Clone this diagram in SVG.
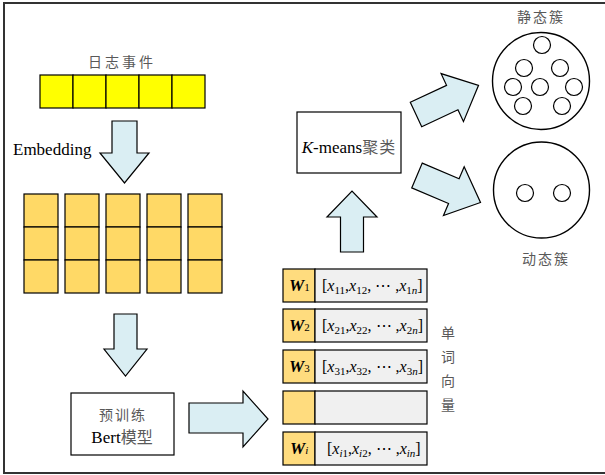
<svg xmlns="http://www.w3.org/2000/svg" width="605" height="475" viewBox="0 0 605 475">
<style>
.frame{fill:#fff;stroke:#333;stroke-width:2}
.ycell{fill:#FFFF00;stroke:#000;stroke-width:1.2}
.ocell{fill:#FFD966;stroke:#000;stroke-width:1.2}
.wcell{fill:#FFDC7E;stroke:#000;stroke-width:1.2}
.gcell{fill:#F0F0F0;stroke:#000;stroke-width:1.2}
.box{fill:#fff;stroke:#000;stroke-width:1.2}
.arrow{fill:#DAEEF3;stroke:#000;stroke-width:1.2;stroke-linejoin:miter}
.circ{fill:#fff;stroke:#000;stroke-width:1.4}
.dot{fill:#fff;stroke:#000;stroke-width:1.2}
.cjk{font-family:"Noto Sans CJK SC","Noto Sans",sans-serif;fill:#595959;font-size:14px}
.serif{font-family:"Liberation Serif","Noto Sans CJK SC",serif;fill:#000}
.vec{font-family:"Liberation Serif","DejaVu Serif",serif;font-size:16px;fill:#000}
.it{font-style:italic}
.sub{font-size:11px}
.w{font-family:"Liberation Serif",serif;font-size:17px;font-weight:bold;font-style:italic;fill:#000}
</style>
<rect class="frame" x="4" y="3" width="620" height="470"/>

<g id="log-events">
<text class="cjk" x="122" y="67" text-anchor="middle" letter-spacing="3">日志事件</text>
<rect class="ycell" x="40" y="75" width="33" height="33"/>
<rect class="ycell" x="73" y="75" width="33" height="33"/>
<rect class="ycell" x="106" y="75" width="33" height="33"/>
<rect class="ycell" x="139" y="75" width="33" height="33"/>
<rect class="ycell" x="172" y="75" width="33" height="33"/>
</g>

<g id="embedding-label">
<text class="serif" x="13" y="155" font-size="17">Embedding</text>
</g>

<g id="embedding-grid">
<rect class="ocell" x="24" y="194" width="34" height="33"/>
<rect class="ocell" x="24" y="227" width="34" height="33"/>
<rect class="ocell" x="24" y="260" width="34" height="33"/>
<rect class="ocell" x="65" y="194" width="34" height="33"/>
<rect class="ocell" x="65" y="227" width="34" height="33"/>
<rect class="ocell" x="65" y="260" width="34" height="33"/>
<rect class="ocell" x="106" y="194" width="34" height="33"/>
<rect class="ocell" x="106" y="227" width="34" height="33"/>
<rect class="ocell" x="106" y="260" width="34" height="33"/>
<rect class="ocell" x="147" y="194" width="34" height="33"/>
<rect class="ocell" x="147" y="227" width="34" height="33"/>
<rect class="ocell" x="147" y="260" width="34" height="33"/>
<rect class="ocell" x="188" y="194" width="34" height="33"/>
<rect class="ocell" x="188" y="227" width="34" height="33"/>
<rect class="ocell" x="188" y="260" width="34" height="33"/>
</g>

<g id="bert">
<rect class="box" x="71" y="393" width="103" height="62"/>
<text class="cjk" x="123" y="420" text-anchor="middle" font-size="16" letter-spacing="2">预训练</text>
<text class="serif" x="122" y="443" text-anchor="middle" font-size="17">Bert<tspan font-family="Noto Sans CJK SC,sans-serif" fill="#595959" font-size="16">模型</tspan></text>
</g>

<g id="word-vectors">
<rect class="wcell" x="283" y="269" width="32" height="33"/>
<rect class="gcell" x="315" y="269" width="112" height="33"/>
<text class="w" x="289" y="291">W<tspan class="sub" font-weight="normal" font-style="normal" font-size="12">1</tspan></text>
<text class="vec" x="322" y="291">[<tspan class="it">x</tspan><tspan class="sub" dy="3">11</tspan><tspan dy="-3">,</tspan><tspan class="it">x</tspan><tspan class="sub" dy="3">12</tspan><tspan dy="-3">, ⋯ ,</tspan><tspan class="it">x</tspan><tspan class="sub" dy="3">1<tspan class="it">n</tspan></tspan><tspan dy="-3">]</tspan></text>

<rect class="wcell" x="283" y="309" width="32" height="33"/>
<rect class="gcell" x="315" y="309" width="112" height="33"/>
<text class="w" x="289" y="331">W<tspan class="sub" font-weight="normal" font-style="normal" font-size="12">2</tspan></text>
<text class="vec" x="322" y="331">[<tspan class="it">x</tspan><tspan class="sub" dy="3">21</tspan><tspan dy="-3">,</tspan><tspan class="it">x</tspan><tspan class="sub" dy="3">22</tspan><tspan dy="-3">, ⋯ ,</tspan><tspan class="it">x</tspan><tspan class="sub" dy="3">2<tspan class="it">n</tspan></tspan><tspan dy="-3">]</tspan></text>

<rect class="wcell" x="283" y="350" width="32" height="33"/>
<rect class="gcell" x="315" y="350" width="112" height="33"/>
<text class="w" x="289" y="372">W<tspan class="sub" font-weight="normal" font-style="normal" font-size="12">3</tspan></text>
<text class="vec" x="322" y="372">[<tspan class="it">x</tspan><tspan class="sub" dy="3">31</tspan><tspan dy="-3">,</tspan><tspan class="it">x</tspan><tspan class="sub" dy="3">32</tspan><tspan dy="-3">, ⋯ ,</tspan><tspan class="it">x</tspan><tspan class="sub" dy="3">3<tspan class="it">n</tspan></tspan><tspan dy="-3">]</tspan></text>

<rect class="wcell" x="283" y="391" width="32" height="33"/>
<rect class="gcell" x="315" y="391" width="112" height="33"/>

<rect class="wcell" x="283" y="432" width="32" height="33"/>
<rect class="gcell" x="315" y="432" width="112" height="33"/>
<text class="w" x="290" y="454">W<tspan class="sub" font-weight="normal" font-size="12">i</tspan></text>
<text class="vec" x="327" y="454">[<tspan class="it">x</tspan><tspan class="sub it" dy="3">i</tspan><tspan class="sub" dy="0">1</tspan><tspan dy="-3">,</tspan><tspan class="it">x</tspan><tspan class="sub it" dy="3">i</tspan><tspan class="sub">2</tspan><tspan dy="-3">, ⋯ ,</tspan><tspan class="it">x</tspan><tspan class="sub it" dy="3">in</tspan><tspan dy="-3">]</tspan></text>

<text class="cjk" x="448" y="338" text-anchor="middle" font-size="15">单</text>
<text class="cjk" x="448" y="362" text-anchor="middle" font-size="15">词</text>
<text class="cjk" x="448" y="386" text-anchor="middle" font-size="15">向</text>
<text class="cjk" x="448" y="410" text-anchor="middle" font-size="15">量</text>
</g>

<g id="kmeans">
<rect class="box" x="297" y="112" width="104" height="61"/>
<text class="serif" x="349" y="153" text-anchor="middle" font-size="17"><tspan class="it">K</tspan>-means<tspan font-family="Noto Sans CJK SC,sans-serif" fill="#595959" font-size="16" letter-spacing="1">聚类</tspan></text>
</g>

<g id="static-cluster">
<text class="cjk" x="541" y="22" text-anchor="middle" font-size="15" letter-spacing="2">静态簇</text>
<circle class="circ" cx="541" cy="81" r="48.5"/>
<circle class="dot" cx="542" cy="45" r="8.5"/>
<circle class="dot" cx="524" cy="68" r="8.5"/>
<circle class="dot" cx="560" cy="68" r="8.5"/>
<circle class="dot" cx="513" cy="87" r="8.5"/>
<circle class="dot" cx="540" cy="87" r="8.5"/>
<circle class="dot" cx="574" cy="87" r="8.5"/>
<circle class="dot" cx="523" cy="106" r="8.5"/>
<circle class="dot" cx="562" cy="106" r="8.5"/>
</g>

<g id="dynamic-cluster">
<circle class="circ" cx="541.5" cy="190" r="48"/>
<circle class="dot" cx="525" cy="193" r="8.5"/>
<circle class="dot" cx="562" cy="193" r="8.5"/>
<text class="cjk" x="546" y="264" text-anchor="middle" font-size="15" letter-spacing="2">动态簇</text>
</g>

<g id="connectors">
<path class="arrow" d="M112,121 L137,121 L137,153 L149,153 L124.5,183 L100,153 L112,153 Z"/>
<path class="arrow" d="M114,314 L137,314 L137,349 L147,349 L125.5,376 L104,349 L114,349 Z"/>
<path class="arrow" d="M189,403 L243,403 L243,391 L268,419 L243,447 L243,433 L189,433 Z"/>
<path class="arrow" d="M340.5,252 L340.5,217 L327,217 L352,191 L377,217 L363.5,217 L363.5,252 Z"/>
<path class="arrow" transform="translate(416,114.5) rotate(-25)" d="M0,-13.5 L40,-13.5 L40,-26.5 L69,0 L40,26.5 L40,13.5 L0,13.5 Z"/>
<path class="arrow" transform="translate(417,175.5) rotate(23)" d="M0,-13.5 L40,-13.5 L40,-26.5 L69,0 L40,26.5 L40,13.5 L0,13.5 Z"/>
</g>
</svg>
